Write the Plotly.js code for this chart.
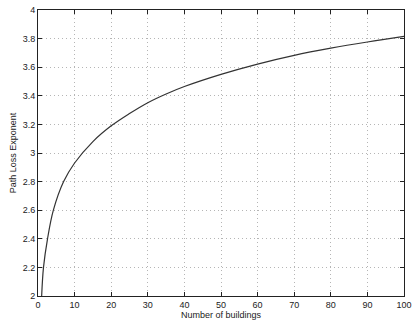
<!DOCTYPE html>
<html>
<head>
<meta charset="utf-8">
<script src="https://cdn.plot.ly/plotly-3.0.1.min.js"></script>
<style>html,body{margin:0;padding:0;background:#fff;}#plot{width:418px;height:326px;}</style>
</head>
<body>
<div id="plot"></div>
<script>
var buildings = [1, 1.5, 2.6, 4.2, 7, 10, 15, 20, 25, 30, 35, 40, 50, 60, 70, 80, 90, 100];
var exponent = [2.0, 2.2, 2.4, 2.6, 2.8, 2.93, 3.08, 3.19, 3.276, 3.352, 3.413, 3.465, 3.55, 3.622, 3.683, 3.733, 3.776, 3.815];
var xTicks = [0, 10, 20, 30, 40, 50, 60, 70, 80, 90, 100];
var yTicks = [2, 2.2, 2.4, 2.6, 2.8, 3, 3.2, 3.4, 3.6, 3.8, 4];
var yTickText = ["2", "2.2", "2.4", "2.6", "2.8", "3", "3.2", "3.4", "3.6", "3.8", "4"];

var trace = {
  x: buildings, y: exponent, type: 'scatter', mode: 'lines',
  line: {color: '#333', width: 1.2, shape: 'spline', smoothing: 1}
};
var axisCommon = {
  showline: true, linecolor: '#222', linewidth: 1, mirror: 'ticks',
  ticks: 'inside', ticklen: 4, tickcolor: '#222',
  showgrid: true, gridcolor: '#b5b5b5', griddash: '1px,3px', gridwidth: 1,
  zeroline: false,
  tickfont: {family: 'Liberation Sans, Arial, sans-serif', size: 9, color: '#222'}
};
var layout = {
  width: 418, height: 326,
  margin: {l: 38, r: 14, t: 10, b: 30},
  paper_bgcolor: '#fff', plot_bgcolor: '#fff',
  showlegend: false,
  xaxis: Object.assign({}, axisCommon, {
    range: [0, 100], tickvals: xTicks,
    title: {text: 'Number of buildings', standoff: 1, font: {family: 'Liberation Sans, Arial, sans-serif', size: 9, color: '#222'}}
  }),
  yaxis: Object.assign({}, axisCommon, {
    range: [2, 4], tickvals: yTicks, ticktext: yTickText,
    title: {text: 'Path Loss Exponent', standoff: 4, font: {family: 'Liberation Sans, Arial, sans-serif', size: 9, color: '#222'}}
  })
};
Plotly.newPlot('plot', [trace], layout, {staticPlot: true});
</script>
</body>
</html>
